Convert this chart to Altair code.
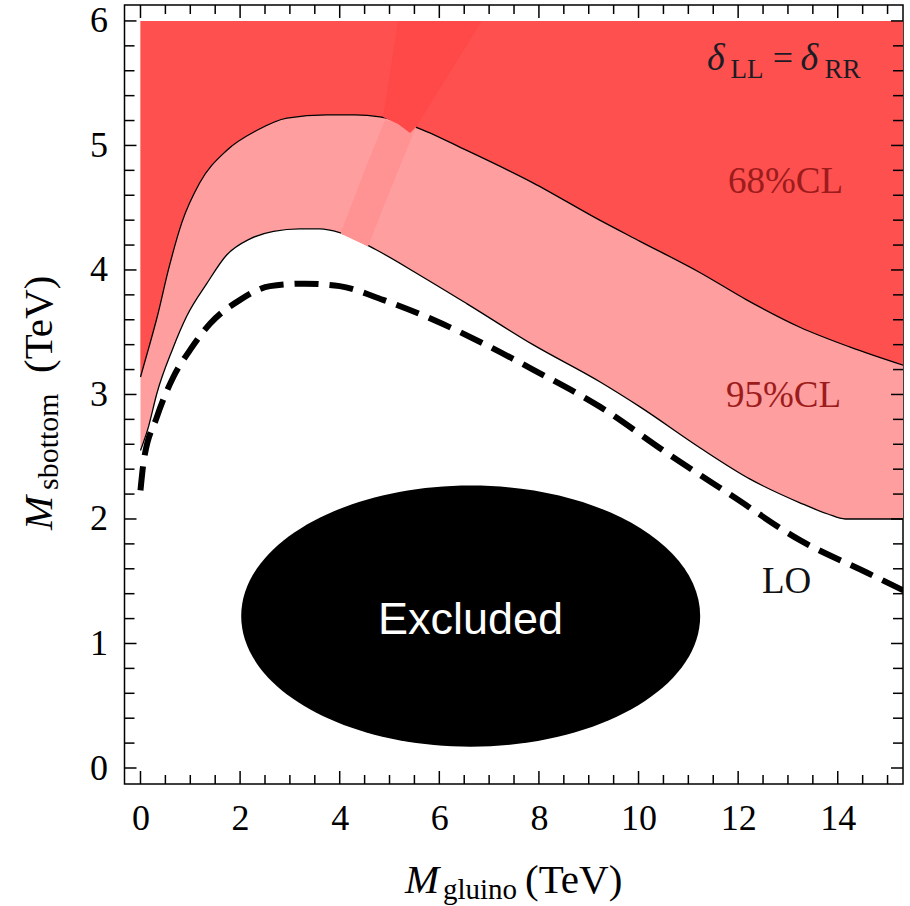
import altair as alt
import pandas as pd

# ---- constraint contours in the (M_gluino, M_sbottom) plane, TeV ----
CL68_X = [0.0, 0.17, 0.34, 0.56, 0.83, 1.19, 1.73, 2.33, 2.94, 3.74, 4.30, 4.81,
          5.51, 6.55, 7.88, 9.22, 10.03, 11.23, 12.17, 13.24, 14.25, 15.35]
CL68_Y = [3.14, 3.38, 3.63, 4.00, 4.38, 4.70, 4.96, 5.12, 5.22, 5.245, 5.245, 5.23,
          5.15, 4.96, 4.70, 4.40, 4.23, 3.98, 3.76, 3.54, 3.38, 3.23]

CL95_X = [0.0, 0.16, 0.33, 0.64, 0.93, 1.33, 1.73, 2.20, 2.67, 3.20, 3.60, 4.00,
          4.74, 5.60, 6.55, 7.88, 9.23, 10.03, 11.24, 12.24, 13.24, 13.80, 14.15, 15.35]
CL95_Y = [2.55, 2.74, 3.01, 3.36, 3.63, 3.89, 4.12, 4.25, 4.31, 4.33, 4.33, 4.30,
          4.16, 3.96, 3.73, 3.40, 3.10, 2.90, 2.57, 2.32, 2.13, 2.04, 2.00, 2.00]

LO_X = [0.0, 0.06, 0.33, 0.66, 1.00, 1.40, 2.00, 2.60, 3.30, 4.00, 4.87, 5.88,
        6.88, 7.88, 9.23, 10.57, 11.90, 13.24, 14.58, 15.35]
LO_Y = [2.23, 2.45, 2.82, 3.14, 3.36, 3.57, 3.76, 3.87, 3.89, 3.87, 3.76, 3.60,
        3.41, 3.20, 2.90, 2.53, 2.18, 1.83, 1.57, 1.42]

Y_TOP = 6.0

# rendering seam crossing the two shaded bands
SEAM95_X = [4.026, 4.568, 4.910, 5.532]
SEAM95_LO = [4.290, 4.188, 4.538, 5.149]
SEAM95_HI = [4.305, 4.867, 5.205, 5.149]
SEAM68_X = [4.869, 5.171, 5.412, 5.532, 6.857]
SEAM68_LO = [5.229, 5.173, 5.100, 5.149, 6.000]
SEAM68_HI = [5.229, 6.000, 6.000, 6.000, 6.000]

# excluded region marker centre
EXCL_X = [6.63]
EXCL_Y = [1.22]

X_TICKS = [i * 0.5 for i in range(31)]
Y_TICKS = [round(i * 0.2, 1) for i in range(31)]
X_LABELS = [0, 2, 4, 6, 8, 10, 12, 14]
Y_LABELS = [0, 1, 2, 3, 4, 5, 6]

RED = "#ff5050"
PINK = "#ff9e9e"
RED_SEAM = "#ff4848"
PINK_SEAM = "#ff9393"
LABEL_RED = "#9c1c1c"
SERIF = "Liberation Serif"

W, H = 778.5, 779
x_scale = alt.Scale(domain=[-0.321, 15.31], nice=False, zero=False)
y_scale = alt.Scale(domain=[-0.1285, 6.128], nice=False, zero=False)

# label-only axes; the frame comes from the view stroke, ticks are drawn below
x_axis = alt.Axis(
    orient="bottom", values=X_LABELS, format="d", title=None, grid=False,
    domain=False, ticks=False, labelFont=SERIF, labelFontSize=36,
    labelColor="black", labelPadding=17, labelFlush=False, labelOverlap=False,
)
y_axis = alt.Axis(
    orient="left", values=Y_LABELS, format="d", title=None, grid=False,
    domain=False, ticks=False, labelFont=SERIF, labelFontSize=36,
    labelColor="black", labelPadding=17, labelOverlap=False,
)

cl68 = pd.DataFrame({"x": CL68_X, "y": CL68_Y})
cl95 = pd.DataFrame({"x": CL95_X, "y": CL95_Y})
lo = pd.DataFrame({"x": LO_X, "y": LO_Y})
seam95 = pd.DataFrame({"x": SEAM95_X, "lo": SEAM95_LO, "hi": SEAM95_HI})
seam68 = pd.DataFrame({"x": SEAM68_X, "lo": SEAM68_LO, "hi": SEAM68_HI})
excl = pd.DataFrame({"x": EXCL_X, "y": EXCL_Y})
xt = pd.DataFrame({"v": X_TICKS, "major": [v % 2 == 0 for v in X_TICKS]})
yt = pd.DataFrame({"v": Y_TICKS, "major": [abs(v - round(v)) < 1e-9 for v in Y_TICKS]})


def X(f="x:Q"):
    return alt.X(f, scale=x_scale, axis=x_axis)


def Y(f="y:Q"):
    return alt.Y(f, scale=y_scale, axis=y_axis)


# 95% CL band (drawn up to the top, then covered by the 68% band)
band95 = alt.Chart(cl95).mark_area(color=PINK, interpolate="monotone", clip=True).encode(
    x=X(), y=Y(), y2=alt.datum(Y_TOP),
)
band68 = alt.Chart(cl68).mark_area(color=RED, interpolate="monotone", clip=True).encode(
    x=X(), y=Y(), y2=alt.datum(Y_TOP),
)


def contour(df):
    return alt.Chart(df).mark_line(
        color="black", strokeWidth=1.3, interpolate="monotone", clip=True
    ).encode(x=X(), y=Y())


def seam(df, color):
    return alt.Chart(df).mark_area(color=color, interpolate="linear", clip=True).encode(
        x=X(), y=Y("lo:Q"), y2="hi:Q",
    )


lo_line = alt.Chart(lo).mark_line(
    color="black", strokeWidth=6, strokeDash=[24, 11], strokeCap="butt",
    interpolate="monotone", clip=True,
).encode(x=X(), y=Y())

# filled ellipse marking the excluded region
ELLIPSE = ("M -1 0 C -1 -0.3143 -0.5523 -0.569 0 -0.569 "
           "C 0.5523 -0.569 1 -0.3143 1 0 "
           "C 1 0.3143 0.5523 0.569 0 0.569 "
           "C -0.5523 0.569 -1 0.3143 -1 0 Z")
excluded = alt.Chart(excl).mark_point(
    shape=ELLIPSE, size=459 ** 2, filled=True, color="black", opacity=1, strokeWidth=0
).encode(x=X(), y=Y())


# inward-pointing frame ticks on all four sides
def xticks(major, edge, inward):
    n = 13 if major else 9
    return alt.Chart(xt).transform_filter(
        f"{'' if major else '!'}datum.major"
    ).mark_rule(color="black", strokeWidth=1.5).encode(
        x=X("v:Q"), y=alt.value(edge), y2=alt.value(edge + inward * n)
    )


def yticks(major, edge, inward):
    n = 12 if major else 10
    return alt.Chart(yt).transform_filter(
        f"{'' if major else '!'}datum.major"
    ).mark_rule(color="black", strokeWidth=1.5).encode(
        y=Y("v:Q"), x=alt.value(edge), x2=alt.value(edge + inward * n)
    )


ticks = [
    xticks(True, H, -1), xticks(False, H, -1),
    xticks(True, 0, 1), xticks(False, 0, 1),
    yticks(True, 0, 1), yticks(False, 0, 1),
    yticks(True, W, -1), yticks(False, W, -1),
]


def text(s, x, y, size, color="black", style="normal", font=SERIF,
         align="left", angle=None):
    kw = dict(text=s, font=font, fontSize=size, color=color, fontStyle=style,
              align=align, baseline="alphabetic")
    if angle is not None:
        kw["angle"] = angle
    return alt.Chart(alt.Data(values=[{}])).mark_text(**kw).encode(
        x=alt.value(x), y=alt.value(y)
    )


annotations = [
    # delta_LL = delta_RR
    text("δ", 582.5, 65, 38, color="#1c1c24", style="italic"),
    text("LL", 606, 73, 27, color="#1c1c24"),
    text("=", 658.5, 65, 36, color="#1c1c24", align="center"),
    text("δ", 676, 65, 38, color="#1c1c24", style="italic"),
    text("RR", 700, 73, 27, color="#1c1c24"),
    text("68%CL", 603.5, 188, 37, color=LABEL_RED),
    text("95%CL", 601.5, 402, 37, color=LABEL_RED),
    text("LO", 637.5, 588, 37, color="#111"),
    text("Excluded", 346, 629, 45, color="white", font="Liberation Sans", align="center"),
    # x-axis title
    text("M", 280.5, 888, 41, style="italic"),
    text("gluino", 318.5, 894, 29),
    text("(TeV)", 400.5, 888, 41),
    # y-axis title (rotated)
    text("M", -72.5, 525, 41, style="italic", angle=270),
    text("sbottom", -66.5, 485, 30, angle=270),
    text("(TeV)", -72.5, 368, 41, angle=270),
]

chart = alt.layer(
    band95, band68,
    contour(cl95), contour(cl68),
    seam(seam95, PINK_SEAM), seam(seam68, RED_SEAM),
    lo_line, excluded, *ticks, *annotations,
).properties(
    width=W, height=H,
    autosize=alt.AutoSizeParams(type="none"),
    padding={"left": 124.5, "top": 5, "right": 7, "bottom": 122},
    background="white",
).configure_view(stroke="black", strokeWidth=1.5)

chart.save("out.html", embed_options={"renderer": "svg", "actions": False})
